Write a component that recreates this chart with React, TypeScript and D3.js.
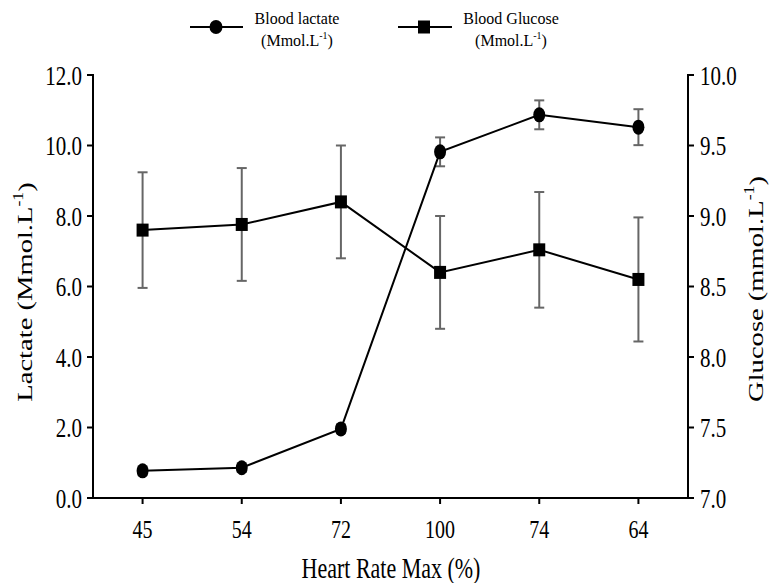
import React from 'react';
import * as d3 from 'd3';

// categories on the x axis (in the order they appear)
const categories = ['45', '54', '72', '100', '74', '64'];

// blood lactate (left axis) and its error
const lactate = [0.77, 0.86, 1.96, 9.82, 10.87, 10.52];
const lactateErr = [0.12, 0.12, 0.12, 0.41, 0.41, 0.51];

// blood glucose (right axis) and its error
const glucose = [8.9, 8.94, 9.1, 8.6, 8.76, 8.55];
const glucoseErr = [0.41, 0.4, 0.4, 0.4, 0.41, 0.44];

const leftTicks = [0, 2, 4, 6, 8, 10, 12];
const rightTicks = [7, 7.5, 8, 8.5, 9, 9.5, 10];

const W = 772;
const H = 583;
const margin = { top: 75, right: 84, bottom: 85, left: 93 };
const FONT = '"Liberation Serif", "Times New Roman", serif';
const SY = 1.3; // the source text looks stretched vertically

const T = ({ x, y, size, anchor = 'middle', rotate = false, children }: any) => (
    <text
        transform={`translate(${x},${y}) scale(1,${SY})${rotate ? ' rotate(-90)' : ''}`}
        textAnchor={anchor}
        dominantBaseline="central"
        fontFamily={FONT}
        fontSize={size}
        fill="#000"
    >
        {children}
    </text>
);

const Unit = ({ lead }: { lead: string }) => (
    <>
        {lead}
        <tspan fontSize="0.62em" dy="-0.55em">-1</tspan>
        <tspan dy="0.35em">)</tspan>
    </>
);

export default function App() {
    const x0 = margin.left;
    const x1 = W - margin.right;
    const y0 = H - margin.bottom;
    const y1 = margin.top;

    const x = d3.scalePoint<string>().domain(categories).range([x0, x1]).padding(0.5);
    const yL = d3.scaleLinear().domain([0, 12]).range([y0, y1]);
    const yR = d3.scaleLinear().domain([7, 10]).range([y0, y1]);

    const lineL = d3.line<number>()
        .x((_, i) => x(categories[i]) as number)
        .y(d => yL(d));
    const lineR = d3.line<number>()
        .x((_, i) => x(categories[i]) as number)
        .y(d => yR(d));

    const errColor = '#666';
    const cap = 5;

    return (
        <svg width={W} height={H} style={{ position: 'absolute', left: 0, top: 0, background: '#fff' }}>
            {/* legend */}
            <g>
                <line x1={190} x2={243} y1={27} y2={27} stroke="#000" strokeWidth={2} />
                <ellipse cx={216} cy={27} rx={6.5} ry={7} fill="#000" />
                <text x={297} y={18} textAnchor="middle" dominantBaseline="central" fontFamily={FONT} fontSize={16}>Blood lactate</text>
                <text x={297} y={40} textAnchor="middle" dominantBaseline="central" fontFamily={FONT} fontSize={16}>
                    <Unit lead="(Mmol.L" />
                </text>
                <line x1={398} x2={452} y1={27} y2={27} stroke="#000" strokeWidth={2} />
                <rect x={418} y={20.5} width={12} height={13} fill="#000" />
                <text x={511} y={18} textAnchor="middle" dominantBaseline="central" fontFamily={FONT} fontSize={16}>Blood Glucose</text>
                <text x={511} y={40} textAnchor="middle" dominantBaseline="central" fontFamily={FONT} fontSize={16}>
                    <Unit lead="(Mmol.L" />
                </text>
            </g>

            {/* axes */}
            <g stroke="#000" strokeWidth={2}>
                <line x1={x0} x2={x0} y1={y1 - 1} y2={y0 + 1} />
                <line x1={x1} x2={x1} y1={y1 - 1} y2={y0 + 1} />
                <line x1={x0} x2={x1} y1={y0} y2={y0} />
                {leftTicks.map(t => (
                    <line key={'l' + t} x1={x0 - 6} x2={x0} y1={yL(t)} y2={yL(t)} />
                ))}
                {rightTicks.map(t => (
                    <line key={'r' + t} x1={x1} x2={x1 + 6} y1={yR(t)} y2={yR(t)} />
                ))}
                {categories.map(c => (
                    <line key={'x' + c} x1={x(c)} x2={x(c)} y1={y0} y2={y0 + 6} />
                ))}
            </g>
            {leftTicks.map(t => (
                <T key={'lt' + t} x={x0 - 11} y={yL(t)} size={21} anchor="end">{t.toFixed(1)}</T>
            ))}
            {rightTicks.map(t => (
                <T key={'rt' + t} x={x1 + 12} y={yR(t)} size={21} anchor="start">{t.toFixed(1)}</T>
            ))}
            {categories.map(c => (
                <T key={'xt' + c} x={x(c)} y={y0 + 31} size={20}>{c}</T>
            ))}

            <T x={391} y={y0 + 70} size={22}>Heart Rate Max (%)</T>
            <T x={25} y={292} size={22} rotate>
                <Unit lead="Lactate (Mmol.L" />
            </T>
            <T x={756} y={289} size={22} rotate>
                <Unit lead="Glucose (mmol.L" />
            </T>

            {/* error bars */}
            <g stroke={errColor} strokeWidth={2}>
                {glucose.map((v, i) => {
                    const cx = x(categories[i]) as number;
                    const a = yR(v + glucoseErr[i]);
                    const b = yR(v - glucoseErr[i]);
                    return (
                        <g key={'ge' + i}>
                            <line x1={cx} x2={cx} y1={a} y2={b} />
                            <line x1={cx - cap} x2={cx + cap} y1={a} y2={a} />
                            <line x1={cx - cap} x2={cx + cap} y1={b} y2={b} />
                        </g>
                    );
                })}
                {lactate.map((v, i) => {
                    const cx = x(categories[i]) as number;
                    const a = yL(v + lactateErr[i]);
                    const b = yL(v - lactateErr[i]);
                    return (
                        <g key={'le' + i}>
                            <line x1={cx} x2={cx} y1={a} y2={b} />
                            <line x1={cx - cap} x2={cx + cap} y1={a} y2={a} />
                            <line x1={cx - cap} x2={cx + cap} y1={b} y2={b} />
                        </g>
                    );
                })}
            </g>

            {/* series */}
            <path d={lineR(glucose) || ''} fill="none" stroke="#000" strokeWidth={2} />
            <path d={lineL(lactate) || ''} fill="none" stroke="#000" strokeWidth={2} />
            {glucose.map((v, i) => (
                <rect key={'gs' + i} x={(x(categories[i]) as number) - 6} y={yR(v) - 6.5} width={12} height={13} fill="#000" />
            ))}
            {lactate.map((v, i) => (
                <ellipse key={'lc' + i} cx={x(categories[i])} cy={yL(v)} rx={6} ry={7.5} fill="#000" />
            ))}
        </svg>
    );
}
